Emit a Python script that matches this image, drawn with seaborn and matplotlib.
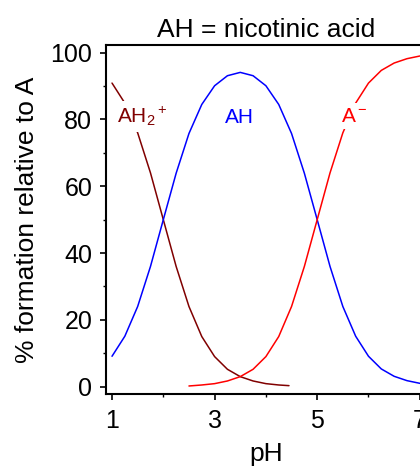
import numpy as np
import pandas as pd
import matplotlib
matplotlib.use("Agg")
import matplotlib.pyplot as plt
import seaborn as sns
from matplotlib.ticker import MultipleLocator

# ---- data ----
ph_ah2 = [1.0, 1.25, 1.5, 1.75, 2.0, 2.25, 2.5, 2.75, 3.0, 3.25, 3.5, 3.75, 4.0, 4.25, 4.45]
pct_ah2 = [90.9, 84.9, 76.0, 64.0, 50.0, 36.0, 24.0, 15.0, 9.0, 5.2, 3.0, 1.7, 0.9, 0.5, 0.3]

ph_ah = [1.0, 1.25, 1.5, 1.75, 2.0, 2.25, 2.5, 2.75, 3.0, 3.25, 3.5, 3.75, 4.0,
         4.25, 4.5, 4.75, 5.0, 5.25, 5.5, 5.75, 6.0, 6.25, 6.5, 6.75, 7.0, 7.25]
pct_ah = [9.1, 15.1, 24.0, 36.0, 50.0, 63.9, 75.8, 84.5, 90.1, 93.1, 94.1, 93.1, 90.1,
          84.5, 75.8, 63.9, 50.0, 36.0, 24.0, 15.1, 9.1, 5.3, 3.1, 1.8, 1.0, 0.6]

ph_a = [2.5, 2.75, 3.0, 3.25, 3.5, 3.75, 4.0, 4.25, 4.5, 4.75, 5.0, 5.25, 5.5,
        5.75, 6.0, 6.25, 6.5, 6.75, 7.0, 7.25]
pct_a = [0.2, 0.5, 0.9, 1.7, 3.0, 5.2, 9.0, 15.0, 24.0, 36.0, 50.0, 64.0, 76.0,
         84.9, 90.9, 94.7, 96.9, 98.2, 99.0, 99.4]

species = ["AH2+", "AH", "A-"]
species_labels = [r"AH$_2$$^+$", "AH", r"A$^-$"]
label_pos_ph = [1.09, 3.48, 5.47]
label_pos_pct = [79.0, 79.0, 79.3]
x_ticks = [1, 3, 5, 7]
y_ticks = [0, 20, 40, 60, 80, 100]
title = "AH = nicotinic acid"
x_label = "pH"
y_label = "% formation relative to A"

colors = {"AH2+": "#800000", "AH": "#0000ff", "A-": "#ff0000"}
label_ha = ["left", "center", "left"]

df = pd.concat([
    pd.DataFrame({"pH": ph_ah2, "pct": pct_ah2, "species": "AH2+"}),
    pd.DataFrame({"pH": ph_ah, "pct": pct_ah, "species": "AH"}),
    pd.DataFrame({"pH": ph_a, "pct": pct_a, "species": "A-"}),
], ignore_index=True)

sns.set_theme(style="white")
plt.rcParams["font.family"] = ["Liberation Sans", "DejaVu Sans"]
plt.rcParams["mathtext.fontset"] = "custom"
plt.rcParams["mathtext.rm"] = "Liberation Sans"
plt.rcParams["mathtext.it"] = "Liberation Sans"
plt.rcParams["mathtext.default"] = "regular"

fig = plt.figure(figsize=(4.2, 4.71), dpi=100)
fig.patch.set_facecolor("white")
ax = fig.add_axes([105.5 / 420, 1 - 394 / 471, (426.3 - 105.5) / 420, (394 - 45) / 471])

sns.lineplot(data=df, x="pH", y="pct", hue="species", palette=colors,
             estimator=None, sort=False, legend=False, linewidth=1.1, ax=ax)

for s, lab, px, py, ha in zip(species, species_labels, label_pos_ph, label_pos_pct, label_ha):
    ax.text(px, py, lab, color=colors[s], fontsize=15, ha=ha, va="baseline",
            zorder=5, bbox=dict(facecolor="white", edgecolor="none", pad=2.5))

ax.set_xlim(0.873, 7.127)
ax.set_ylim(-2.2, 102.3)
ax.set_xticks(x_ticks)
ax.set_yticks(y_ticks)
ax.xaxis.set_minor_locator(MultipleLocator(1))
ax.yaxis.set_minor_locator(MultipleLocator(10))

for sp in ["left", "bottom", "top", "right"]:
    ax.spines[sp].set_visible(True)
    ax.spines[sp].set_color("black")
    ax.spines[sp].set_linewidth(1.5)

ax.tick_params(axis="both", which="major", direction="out", length=4.5, width=1.2,
               color="black", labelsize=18, labelcolor="black")
ax.tick_params(axis="both", which="minor", direction="out", length=2.2, width=1.0,
               color="black")
ax.tick_params(axis="x", which="major", pad=6, bottom=True)
ax.tick_params(axis="x", which="minor", bottom=True)
ax.tick_params(axis="y", which="major", pad=5, left=True)
ax.tick_params(axis="y", which="minor", left=True)

ax.set_title(title, fontsize=19, pad=6, color="black")
ax.set_xlabel(x_label, fontsize=19, labelpad=6.5, color="black")
ax.set_ylabel(y_label, fontsize=19, labelpad=8, color="black")
ax.grid(False)

fig.savefig("out.png", dpi=100)
